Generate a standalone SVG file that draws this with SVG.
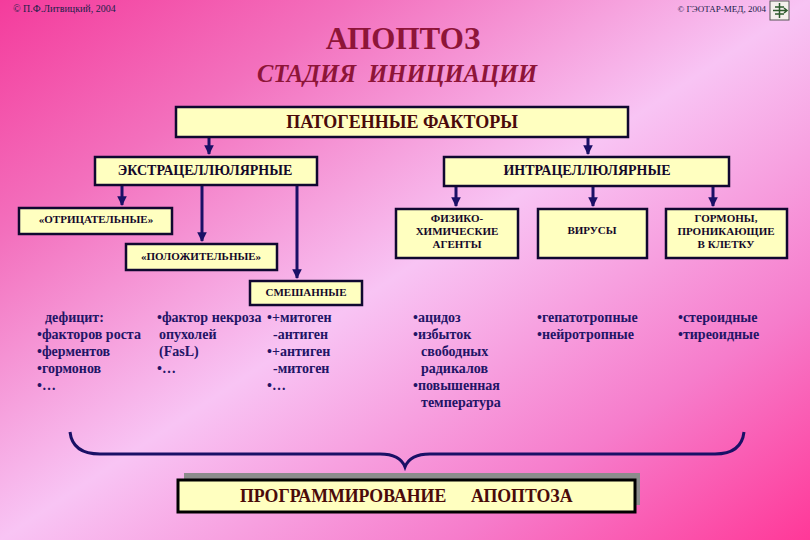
<svg xmlns="http://www.w3.org/2000/svg" width="810" height="540" viewBox="0 0 810 540">
<defs>
<linearGradient id="bg" x1="0" y1="0" x2="1" y2="1">
<stop offset="0" stop-color="#F43C9C"/>
<stop offset="0.22" stop-color="#F370BD"/>
<stop offset="0.5" stop-color="#F8C4F4"/>
<stop offset="0.78" stop-color="#F67CCB"/>
<stop offset="1" stop-color="#FF3898"/>
</linearGradient>
<marker id="ah" viewBox="0 0 10 10" refX="9" refY="5" markerWidth="3.2" markerHeight="3.2" orient="auto" markerUnits="strokeWidth">
<path d="M0,0 L10,5 L0,10 z" fill="#1A1066"/>
</marker>
<style>
.box{fill:#FFFFC0;stroke:#100830;stroke-width:2.5}
.bt{font-family:"Liberation Serif","DejaVu Serif",serif;font-weight:bold;fill:#14082A;text-anchor:middle}
.big{font-size:18px;fill:#4A0A0A}
.mid{font-size:14px}
.sm{font-size:11px}
.pr{font-size:17.8px;fill:#4A0A0A;text-anchor:start}
.cn{stroke:#1A1066;stroke-width:3;fill:none}
.li{font-family:"Liberation Serif","DejaVu Serif",serif;font-weight:bold;font-size:14px;fill:#221466}
.cp{font-family:"Liberation Serif","DejaVu Serif",serif;font-size:9px;fill:#20204A}
</style>
</defs>
<rect x="0" y="0" width="810" height="540" fill="url(#bg)"/>

<text class="cp" x="13" y="12" style="font-size:10px">© П.Ф.Литвицкий, 2004</text>
<text class="cp" x="766" y="12" text-anchor="end">© ГЭОТАР-МЕД, 2004</text>
<g id="icon">
<rect x="770" y="1" width="19" height="19" fill="#F4F0EC" stroke="#555" stroke-width="1"/>
<path d="M779.5,3 L779.5,18 M775,7 L784,7 M773,10.5 L787,10.5 M775,14 L784,14 M784,8 L787,10.5 L784,13" stroke="#2C5A2C" stroke-width="1.5" fill="none"/>
</g>

<text x="403" y="49" text-anchor="middle" font-family="Liberation Serif, serif" font-weight="bold" font-size="31" fill="#8E1538">АПОПТОЗ</text>
<text x="397" y="82" text-anchor="middle" font-family="Liberation Serif, serif" font-weight="bold" font-style="italic" font-size="24.5" fill="#8E1538" xml:space="preserve">СТАДИЯ  ИНИЦИАЦИИ</text>

<g id="connectors">
<path class="cn" d="M209,137 V154" marker-end="url(#ah)"/>
<path class="cn" d="M588,137 V154" marker-end="url(#ah)"/>
<path class="cn" d="M122,185 V205" marker-end="url(#ah)"/>
<path class="cn" d="M202,185 V241" marker-end="url(#ah)"/>
<path class="cn" d="M297,185 V278" marker-end="url(#ah)"/>
<path class="cn" d="M456,186 V206" marker-end="url(#ah)"/>
<path class="cn" d="M593,186 V206" marker-end="url(#ah)"/>
<path class="cn" d="M713,186 V206" marker-end="url(#ah)"/>
<path class="cn" d="M70,432 C72,449 85,454 100,454 L380,454 C395,454 402,459 405,467 C408,459 415,454 430,454 L715,454 C730,454 742,449 744,432"/>
</g>

<g id="patogen">
<rect class="box" x="176" y="107" width="452" height="30"/>
<text class="bt big" x="402" y="128">ПАТОГЕННЫЕ ФАКТОРЫ</text>
</g>
<g id="extra">
<rect class="box" x="95" y="157" width="222" height="28"/>
<text class="bt mid" x="205" y="175">ЭКСТРАЦЕЛЛЮЛЯРНЫЕ</text>
</g>
<g id="intra">
<rect class="box" x="444" y="157" width="285" height="29"/>
<text class="bt mid" x="587" y="175">ИНТРАЦЕЛЛЮЛЯРНЫЕ</text>
</g>
<g id="otric">
<rect class="box" x="19" y="208" width="153" height="26"/>
<text class="bt sm" x="96" y="223">«ОТРИЦАТЕЛЬНЫЕ»</text>
</g>
<g id="polozh">
<rect class="box" x="126" y="244" width="151" height="26"/>
<text class="bt sm" x="201" y="260">«ПОЛОЖИТЕЛЬНЫЕ»</text>
</g>
<g id="smesh">
<rect class="box" x="250" y="281" width="112" height="24"/>
<text class="bt sm" x="306" y="296">СМЕШАННЫЕ</text>
</g>
<g id="fiz">
<rect class="box" x="396" y="209" width="122" height="49"/>
<text class="bt sm" x="457" y="222">ФИЗИКО-</text>
<text class="bt sm" x="457" y="235">ХИМИЧЕСКИЕ</text>
<text class="bt sm" x="457" y="248">АГЕНТЫ</text>
</g>
<g id="virus">
<rect class="box" x="538" y="209" width="109" height="49"/>
<text class="bt sm" x="592" y="234">ВИРУСЫ</text>
</g>
<g id="gorm">
<rect class="box" x="666" y="209" width="121" height="49"/>
<text class="bt sm" x="726" y="222">ГОРМОНЫ,</text>
<text class="bt sm" x="726" y="235">ПРОНИКАЮЩИЕ</text>
<text class="bt sm" x="726" y="248">В КЛЕТКУ</text>
</g>

<g id="list1" class="li">
<text x="45" y="322">дефицит:</text>
<text x="37" y="339">•факторов роста</text>
<text x="37" y="356">•ферментов</text>
<text x="37" y="373">•гормонов</text>
<text x="37" y="390">•…</text>
</g>
<g id="list2" class="li">
<text x="157" y="322">•фактор некроза</text>
<text x="159" y="339">опухолей</text>
<text x="159" y="356">(FasL)</text>
<text x="157" y="373">•…</text>
</g>
<g id="list3" class="li">
<text x="267" y="322">•+митоген</text>
<text x="273" y="339">-антиген</text>
<text x="267" y="356">•+антиген</text>
<text x="273" y="373">-митоген</text>
<text x="267" y="390">•…</text>
</g>
<g id="list4" class="li">
<text x="413" y="322">•ацидоз</text>
<text x="413" y="339">•избыток</text>
<text x="421" y="356">свободных</text>
<text x="421" y="373">радикалов</text>
<text x="413" y="390">•повышенная</text>
<text x="421" y="407">температура</text>
</g>
<g id="list5" class="li">
<text x="537" y="322">•гепатотропные</text>
<text x="537" y="339">•нейротропные</text>
</g>
<g id="list6" class="li">
<text x="678" y="322">•стероидные</text>
<text x="678" y="339">•тиреоидные</text>
</g>

<g id="program">
<rect x="184" y="473" width="456" height="32" fill="#8C8C8C"/>
<rect x="178" y="480" width="457" height="32" fill="#FFFFC0" stroke="#000" stroke-width="3"/>
<text class="bt pr" x="240" y="502">ПРОГРАММИРОВАНИЕ</text>
<text class="bt pr" x="471" y="502">АПОПТОЗА</text>
</g>
</svg>
